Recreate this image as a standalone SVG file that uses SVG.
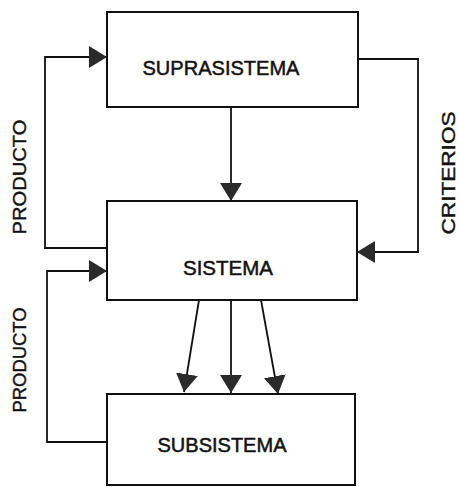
<svg xmlns="http://www.w3.org/2000/svg" width="458" height="487" viewBox="0 0 458 487">
<style>
.box{fill:#fff;stroke:#111;stroke-width:2}
.lbl{font-family:"Liberation Sans",Arial,sans-serif;font-size:21px;fill:#111;stroke:#111;stroke-width:0.5;text-anchor:middle}
.side{font-family:"Liberation Sans",Arial,sans-serif;font-size:19px;fill:#111;stroke:#111;stroke-width:0.4;text-anchor:middle}
.con{fill:none;stroke:#111;stroke-width:1.8}
</style>
<defs>
<marker id="ah" viewBox="0 0 18 22" refX="18" refY="11" markerWidth="18" markerHeight="22" markerUnits="userSpaceOnUse" orient="auto">
<path d="M0,0 L18,11 L0,22 z" fill="#2b2b2b"/>
</marker>
</defs>
<rect width="458" height="487" fill="#fff"/>
<g id="connectors">
<path class="con" d="M107,248 H45 V57 H107" marker-end="url(#ah)"/>
<path class="con" d="M231,107 V201" marker-end="url(#ah)"/>
<path class="con" d="M358,59 H418 V252 H357" marker-end="url(#ah)"/>
<path class="con" d="M107,442 H47 V271 H107" marker-end="url(#ah)"/>
<path class="con" d="M199,300 L184,392" marker-end="url(#ah)"/>
<path class="con" d="M231,300 V393" marker-end="url(#ah)"/>
<path class="con" d="M261,300 L278,394" marker-end="url(#ah)"/>
</g>
<g id="suprasistema">
<rect class="box" x="107" y="12" width="251" height="95"/>
<text class="lbl" x="221" y="75" textLength="157" lengthAdjust="spacingAndGlyphs">SUPRASISTEMA</text>
</g>
<g id="sistema">
<rect class="box" x="107" y="201" width="250" height="99"/>
<text class="lbl" x="228" y="275" textLength="90" lengthAdjust="spacingAndGlyphs">SISTEMA</text>
</g>
<g id="subsistema">
<rect class="box" x="107" y="394" width="248" height="91"/>
<text class="lbl" x="222" y="452" textLength="129" lengthAdjust="spacingAndGlyphs">SUBSISTEMA</text>
</g>
<g id="labels">
<text class="side" transform="translate(26,177) rotate(-90)" textLength="115" lengthAdjust="spacingAndGlyphs">PRODUCTO</text>
<text class="side" transform="translate(455,173) rotate(-90)" textLength="123" lengthAdjust="spacingAndGlyphs">CRITERIOS</text>
<text class="side" transform="translate(26,360) rotate(-90)" textLength="105" lengthAdjust="spacingAndGlyphs">PRODUCTO</text>
</g>
</svg>
